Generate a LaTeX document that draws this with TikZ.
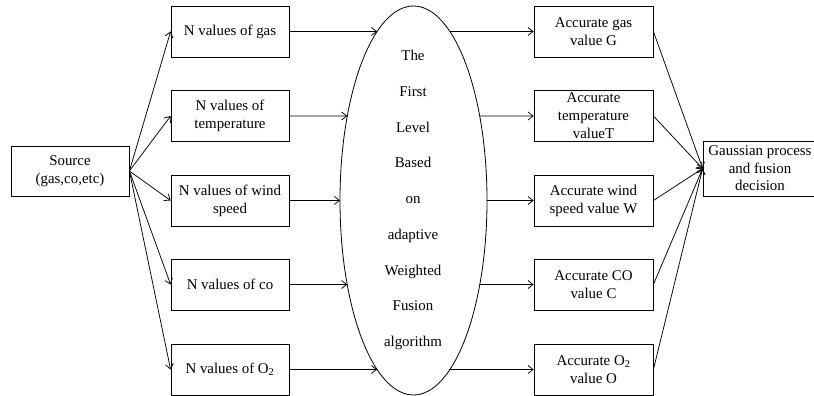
\documentclass[tikz,border=0pt]{standalone}
\usepackage{fontspec}
\setmainfont{Liberation Serif}
\usetikzlibrary{arrows.meta,shapes.geometric,intersections}
\begin{document}
\begin{tikzpicture}[x=1pt,y=-1pt,
  box/.style={draw, line width=0.8pt, rectangle, minimum width=118pt, minimum height=51pt, inner sep=0pt, align=center, font=\fontsize{14.9}{18}\selectfont},
  arr/.style={line width=0.75pt, -{Straight Barb[length=5pt,width=8pt]}},
  etext/.style={align=center, font=\fontsize{14.9}{35.75}\selectfont, inner sep=0pt}]
\useasboundingbox (0,0) rectangle (814,396);

\node[box, minimum height=50pt] (src) at (70,171) {Source\\(gas,co,etc)};

\node[box] (l1) at (230,31.5) {N values of gas};
\node[box] (l2) at (230,116) {N values of\\temperature};
\node[box] (l3) at (230,200.5) {N values of wind\\speed};
\node[box] (l4) at (230,284.5) {N values of co};
\node[box] (l5) at (230,369.5) {N values of O\textsubscript{2}};

\node[draw, line width=0.8pt, ellipse, minimum width=147pt, minimum height=389pt, inner sep=0pt] (ell) at (413.5,200.5) {};
\path[name path=E] (ell.center) ellipse [x radius=73.5pt, y radius=194.5pt];
\node[etext] (etx) at (413,200) {The\\First\\Level\\Based\\on\\adaptive\\Weighted\\Fusion\\algorithm};

\node[box, minimum width=119pt] (r1) at (593.5,31.5) {Accurate gas\\value G};
\node[box, minimum width=119pt] (r2) at (593.5,116) {Accurate\\temperature\\valueT};
\node[box, minimum width=119pt] (r3) at (593.5,200.5) {Accurate wind\\speed value W};
\node[box, minimum width=119pt] (r4) at (593.5,284.5) {Accurate CO\\value C};
\node[box, minimum width=119pt] (r5) at (593.5,369.5) {Accurate O\textsubscript{2}\\value O};

\node[box, minimum width=114pt, minimum height=55pt, font=\fontsize{14.9}{17.5}\selectfont] (gp) at (760,168.5) {Gaussian process\\and fusion\\decision};

\foreach \i in {1,...,5} {
  \draw[arr] (src.east) -- (l\i.west);
  \draw[arr] (r\i.east) -- (gp.west);
}

\path[name path=LA] (l1.east) -- ++(150,0);
\path[name path=LB] (l2.east) -- ++(150,0);
\path[name path=LC] (l3.east) -- ++(150,0);
\path[name path=LD] (l4.east) -- ++(150,0);
\path[name path=LF] (l5.east) -- ++(150,0);
\path[name path=RA] (r1.west) -- ++(-150,0);
\path[name path=RB] (r2.west) -- ++(-150,0);
\path[name path=RC] (r3.west) -- ++(-150,0);
\path[name path=RD] (r4.west) -- ++(-150,0);
\path[name path=RF] (r5.west) -- ++(-150,0);

\draw[arr, name intersections={of=LA and E, by=pla}] (l1.east) -- (pla);
\draw[arr, name intersections={of=LB and E, by=plb}] (l2.east) -- (plb);
\draw[arr, name intersections={of=LC and E, by=plc}] (l3.east) -- (plc);
\draw[arr, name intersections={of=LD and E, by=pld}] (l4.east) -- (pld);
\draw[arr, name intersections={of=LF and E, by=plf}] (l5.east) -- (plf);
\draw[arr, name intersections={of=RA and E, by=pra}] (pra) -- (r1.west);
\draw[arr, name intersections={of=RB and E, by=prb}] (prb) -- (r2.west);
\draw[arr, name intersections={of=RC and E, by=prc}] (prc) -- (r3.west);
\draw[arr, name intersections={of=RD and E, by=prd}] (prd) -- (r4.west);
\draw[arr, name intersections={of=RF and E, by=prf}] (prf) -- (r5.west);
\end{tikzpicture}
\end{document}
